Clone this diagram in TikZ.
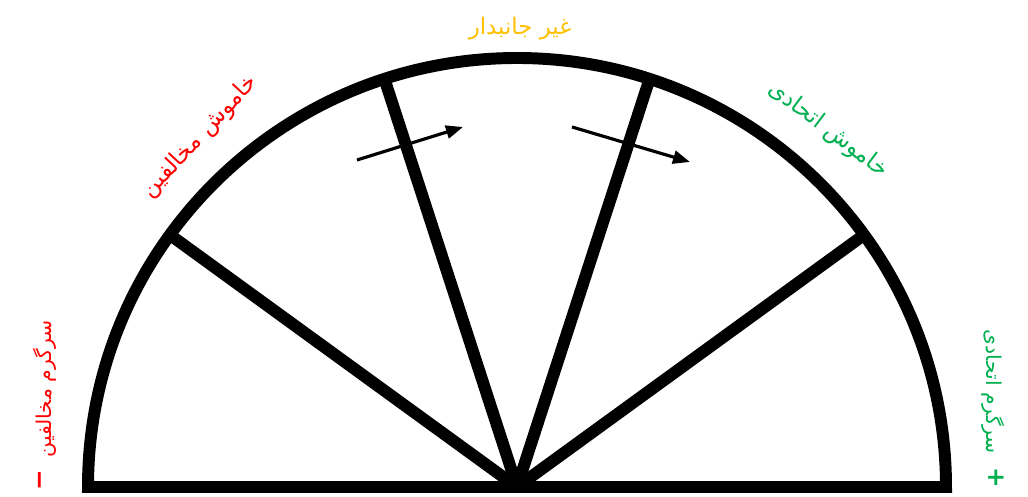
\documentclass[tikz,border=0pt]{standalone}
\usepackage{fontspec}
\usetikzlibrary{arrows.meta}
\newfontfamily\urdufont[Script=Arabic]{DejaVu Sans}
\newfontfamily\signfont{DejaVu Sans}
\TeXXeTstate=1
\definecolor{foecol}{HTML}{FF0000}
\definecolor{allycol}{HTML}{00B050}
\definecolor{neutcol}{HTML}{FFC000}
\newcommand{\urdu}[1]{\beginR #1\endR}

\begin{document}
\begin{tikzpicture}[every node/.style={font=\urdufont\fontsize{6.5}{8}\selectfont, inner sep=1pt},
    side/.style={font=\urdufont\fontsize{5.8}{7}\selectfont},
    sign/.style={font=\signfont\bfseries\fontsize{7}{8}\selectfont},
    rim/.style={line width=3.4pt, line join=miter},
    swing/.style={-{Triangle[length=0.17cm,width=0.13cm]}, line width=0.9pt}]
  \useasboundingbox (0,0) rectangle (10.28,4.97);
  \coordinate (O) at (5.17,0.10);
  % half disc with its base
  \draw[rim] (O) ++(-4.29,0) arc (180:0:4.29) -- cycle;
  \foreach \a [count=\i] in {36,72,108,144} {
    \path (O) ++(\a:4.29) coordinate (r\i);
    \draw[rim] (O) -- (r\i);
  }
  % shift arrows
  \coordinate (p1) at (3.57,3.37);
  \coordinate (p2) at (4.63,3.70);
  \coordinate (q1) at (5.72,3.70);
  \coordinate (q2) at (6.90,3.35);
  \draw[swing] (p1) -- (p2);
  \draw[swing] (q1) -- (q2);
  % signs at the two ends of the base
  \node[sign, text=foecol, rotate=90] (minus) at (0.43,0.17) {−};
  \node[sign, text=allycol] (plus) at (9.96,0.19) {+};
  % labels
  \node[text=neutcol] (neutral) at (5.20,4.68) {\urdu{غیر جانبدار}};
  \node[text=foecol, rotate=47] (passfoe) at (2.00,3.60) {\urdu{خاموش مخالفین}};
  \node[text=allycol, rotate=-37] (passally) at (8.28,3.67) {\urdu{خاموش اتحادی}};
  \node[side, text=foecol, rotate=90] (actfoe) at (0.45,1.08) {\urdu{سرگرم مخالفین}};
  \node[side, text=allycol, rotate=-90] (actally) at (9.93,1.05) {\urdu{سرگرم اتحادی}};
\end{tikzpicture}
\end{document}
